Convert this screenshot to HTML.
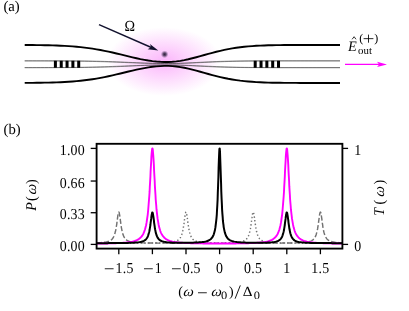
<!DOCTYPE html>
<html><head><meta charset="utf-8"><style>
html,body{margin:0;padding:0;background:#fff;}
body{width:409px;height:311px;overflow:hidden;}
svg{display:block}
text{font-family:"Liberation Serif",serif;font-size:13.9px;fill:#000;text-rendering:geometricPrecision}
.i{font-style:italic}
.tl{letter-spacing:0.25px}
</style></head><body>
<svg width="409" height="311" viewBox="0 0 409 311">
<defs>
<radialGradient id="glow" cx="50%" cy="50%" r="50%">
<stop offset="0" stop-color="#f200f2" stop-opacity="0.290"/>
<stop offset="1" stop-color="#f200f2" stop-opacity="0.000"/>
</radialGradient>
<radialGradient id="atom" cx="50%" cy="50%" r="50%">
<stop offset="0" stop-color="#2a1c38" stop-opacity="1"/>
<stop offset="0.4" stop-color="#4a3858" stop-opacity="0.85"/>
<stop offset="1" stop-color="#806890" stop-opacity="0"/>
</radialGradient>
<clipPath id="ax"><rect x="96.6" y="143.8" width="245.79999999999998" height="104.79999999999998"/></clipPath>
</defs>
<g style="will-change:transform"><rect width="409" height="311" fill="#fff"/>
<!-- panel a -->
<text x="3.4" y="11.4" style="font-size:14.7px">(a)</text>
<ellipse cx="164" cy="61.6" rx="57.5" ry="34.5" fill="url(#glow)"/>
<g fill="none" stroke="#444" stroke-width="0.55">
<path d="M24.7,60.86 28.7,60.86 32.7,60.87 36.7,60.88 40.7,60.88 44.7,60.89 48.6,60.91 52.6,60.92 56.6,60.94 60.6,60.97 64.6,61 68.6,61.04 72.6,61.08 76.6,61.14 80.6,61.2 84.6,61.27 88.6,61.35 92.5,61.44 96.5,61.54 100.5,61.66 104.5,61.78 108.5,61.91 112.5,62.05 116.5,62.2 120.5,62.35 124.5,62.5 128.5,62.66 132.5,62.81 136.5,62.95 140.4,63.09 144.4,63.21 148.4,63.32 152.4,63.41 156.4,63.47 160.4,63.52 164.4,63.55 168.4,63.55 172.4,63.52 176.4,63.45 180.4,63.36 184.3,63.25 188.3,63.11 192.3,62.96 196.3,62.79 200.3,62.62 204.3,62.44 208.3,62.27 212.3,62.09 216.3,61.93 220.3,61.78 224.3,61.64 228.2,61.51 232.2,61.4 236.2,61.3 240.2,61.21 244.2,61.14 248.2,61.08 252.2,61.03 256.2,60.99 260.2,60.96 264.2,60.93 268.2,60.91 272.2,60.89 276.1,60.88 280.1,60.87 284.1,60.87 288.1,60.86 292.1,60.86 296.1,60.86 300.1,60.85 304.1,60.85 308.1,60.85 312.1,60.85 316.1,60.85 320.0,60.85 324.0,60.85 328.0,60.85 332.0,60.85 336.0,60.85 340.0,60.85"/><path d="M24.7,67.64 28.7,67.64 32.7,67.63 36.7,67.62 40.7,67.62 44.7,67.61 48.6,67.59 52.6,67.58 56.6,67.56 60.6,67.53 64.6,67.5 68.6,67.46 72.6,67.42 76.6,67.36 80.6,67.3 84.6,67.23 88.6,67.15 92.5,67.06 96.5,66.96 100.5,66.84 104.5,66.72 108.5,66.59 112.5,66.45 116.5,66.3 120.5,66.15 124.5,66 128.5,65.84 132.5,65.69 136.5,65.55 140.4,65.41 144.4,65.29 148.4,65.18 152.4,65.09 156.4,65.03 160.4,64.98 164.4,64.95 168.4,64.95 172.4,64.98 176.4,65.05 180.4,65.14 184.3,65.25 188.3,65.39 192.3,65.54 196.3,65.71 200.3,65.88 204.3,66.06 208.3,66.23 212.3,66.41 216.3,66.57 220.3,66.72 224.3,66.86 228.2,66.99 232.2,67.1 236.2,67.2 240.2,67.29 244.2,67.36 248.2,67.42 252.2,67.47 256.2,67.51 260.2,67.54 264.2,67.57 268.2,67.59 272.2,67.61 276.1,67.62 280.1,67.63 284.1,67.63 288.1,67.64 292.1,67.64 296.1,67.64 300.1,67.65 304.1,67.65 308.1,67.65 312.1,67.65 316.1,67.65 320.0,67.65 324.0,67.65 328.0,67.65 332.0,67.65 336.0,67.65 340.0,67.65"/><path d="M24.7,60.85 28.7,60.85 32.7,60.85 36.7,60.85 40.7,60.85 44.7,60.86 48.6,60.86 52.6,60.86 56.6,60.87 60.6,60.88 64.6,60.89 68.6,60.9 72.6,60.92 76.6,60.94 80.6,60.97 84.6,61.01 88.6,61.07 92.5,61.13 96.5,61.2 100.5,61.29 104.5,61.4 108.5,61.52 112.5,61.65 116.5,61.8 120.5,61.97 124.5,62.14 128.5,62.33 132.5,62.52 136.5,62.7 140.4,62.88 144.4,63.05 148.4,63.21 152.4,63.34 156.4,63.44 160.4,63.51 164.4,63.54 168.4,63.54 172.4,63.5 176.4,63.41 180.4,63.28 184.3,63.11 188.3,62.92 192.3,62.72 196.3,62.5 200.3,62.28 204.3,62.07 208.3,61.88 212.3,61.69 216.3,61.53 220.3,61.39 224.3,61.27 228.2,61.18 232.2,61.1 236.2,61.03 240.2,60.98 244.2,60.94 248.2,60.92 252.2,60.9 256.2,60.88 260.2,60.87 264.2,60.86 268.2,60.86 272.2,60.86 276.1,60.85 280.1,60.85 284.1,60.85 288.1,60.85 292.1,60.85 296.1,60.85 300.1,60.85 304.1,60.85 308.1,60.85 312.1,60.85 316.1,60.85 320.0,60.85 324.0,60.85 328.0,60.85 332.0,60.85 336.0,60.85 340.0,60.85"/><path d="M24.7,67.65 28.7,67.65 32.7,67.65 36.7,67.65 40.7,67.65 44.7,67.64 48.6,67.64 52.6,67.64 56.6,67.63 60.6,67.62 64.6,67.61 68.6,67.6 72.6,67.58 76.6,67.56 80.6,67.53 84.6,67.49 88.6,67.43 92.5,67.37 96.5,67.3 100.5,67.21 104.5,67.1 108.5,66.98 112.5,66.85 116.5,66.7 120.5,66.53 124.5,66.36 128.5,66.17 132.5,65.98 136.5,65.8 140.4,65.62 144.4,65.45 148.4,65.29 152.4,65.16 156.4,65.06 160.4,64.99 164.4,64.96 168.4,64.96 172.4,65 176.4,65.09 180.4,65.22 184.3,65.39 188.3,65.58 192.3,65.78 196.3,66 200.3,66.22 204.3,66.43 208.3,66.62 212.3,66.81 216.3,66.97 220.3,67.11 224.3,67.23 228.2,67.32 232.2,67.4 236.2,67.47 240.2,67.52 244.2,67.56 248.2,67.58 252.2,67.6 256.2,67.62 260.2,67.63 264.2,67.64 268.2,67.64 272.2,67.64 276.1,67.65 280.1,67.65 284.1,67.65 288.1,67.65 292.1,67.65 296.1,67.65 300.1,67.65 304.1,67.65 308.1,67.65 312.1,67.65 316.1,67.65 320.0,67.65 324.0,67.65 328.0,67.65 332.0,67.65 336.0,67.65 340.0,67.65"/>
</g>
<rect x="53.90" y="60.75" width="3.0" height="7.0" fill="#000"/><rect x="59.73" y="60.75" width="3.0" height="7.0" fill="#000"/><rect x="65.56" y="60.75" width="3.0" height="7.0" fill="#000"/><rect x="71.39" y="60.75" width="3.0" height="7.0" fill="#000"/><rect x="77.22" y="60.75" width="3.0" height="7.0" fill="#000"/><rect x="253.70" y="60.75" width="3.0" height="7.0" fill="#000"/><rect x="259.53" y="60.75" width="3.0" height="7.0" fill="#000"/><rect x="265.36" y="60.75" width="3.0" height="7.0" fill="#000"/><rect x="271.19" y="60.75" width="3.0" height="7.0" fill="#000"/><rect x="277.02" y="60.75" width="3.0" height="7.0" fill="#000"/>
<g fill="none" stroke="#000" stroke-width="1.9" stroke-linecap="butt">
<path d="M24.7,45.01 28.7,45.04 32.7,45.07 36.7,45.11 40.7,45.16 44.7,45.23 48.6,45.31 52.6,45.42 56.6,45.55 60.6,45.71 64.6,45.9 68.6,46.14 72.6,46.42 76.6,46.75 80.6,47.14 84.6,47.59 88.6,48.1 92.5,48.68 96.5,49.33 100.5,50.04 104.5,50.82 108.5,51.65 112.5,52.54 116.5,53.46 120.5,54.42 124.5,55.39 128.5,56.36 132.5,57.31 136.5,58.22 140.4,59.07 144.4,59.84 148.4,60.52 152.4,61.09 156.4,61.52 160.4,61.82 164.4,61.98 168.4,61.98 172.4,61.78 176.4,61.4 180.4,60.83 184.3,60.11 188.3,59.24 192.3,58.27 196.3,57.22 200.3,56.12 204.3,55 208.3,53.89 212.3,52.8 216.3,51.77 220.3,50.8 224.3,49.92 228.2,49.11 232.2,48.4 236.2,47.77 240.2,47.23 244.2,46.78 248.2,46.39 252.2,46.08 256.2,45.82 260.2,45.61 264.2,45.45 268.2,45.32 272.2,45.22 276.1,45.15 280.1,45.09 284.1,45.05 288.1,45.02 292.1,45 296.1,44.98 300.1,44.97 304.1,44.97 308.1,44.96 312.1,44.96 316.1,44.95 320.0,44.95 324.0,44.95 328.0,44.95 332.0,44.95 336.0,44.95 340.0,44.95"/><path d="M24.7,82.89 28.7,82.86 32.7,82.83 36.7,82.79 40.7,82.74 44.7,82.67 48.6,82.59 52.6,82.48 56.6,82.35 60.6,82.19 64.6,82 68.6,81.76 72.6,81.48 76.6,81.15 80.6,80.76 84.6,80.31 88.6,79.8 92.5,79.22 96.5,78.57 100.5,77.86 104.5,77.08 108.5,76.25 112.5,75.36 116.5,74.44 120.5,73.48 124.5,72.51 128.5,71.54 132.5,70.59 136.5,69.68 140.4,68.83 144.4,68.06 148.4,67.38 152.4,66.81 156.4,66.38 160.4,66.08 164.4,65.92 168.4,65.92 172.4,66.12 176.4,66.5 180.4,67.07 184.3,67.79 188.3,68.66 192.3,69.63 196.3,70.68 200.3,71.78 204.3,72.9 208.3,74.01 212.3,75.1 216.3,76.13 220.3,77.1 224.3,77.98 228.2,78.79 232.2,79.5 236.2,80.13 240.2,80.67 244.2,81.12 248.2,81.51 252.2,81.82 256.2,82.08 260.2,82.29 264.2,82.45 268.2,82.58 272.2,82.68 276.1,82.75 280.1,82.81 284.1,82.85 288.1,82.88 292.1,82.9 296.1,82.92 300.1,82.93 304.1,82.93 308.1,82.94 312.1,82.94 316.1,82.95 320.0,82.95 324.0,82.95 328.0,82.95 332.0,82.95 336.0,82.95 340.0,82.95"/>
</g>
<circle cx="164.6" cy="54.3" r="3.9" fill="url(#atom)"/>
<line x1="99" y1="24.7" x2="152.5" y2="48.0" stroke="#12122e" stroke-width="1.45"/>
<path d="M158.3,50.6 L147.6,49.3 L151.2,47.3 L149.9,43.9 Z" fill="#12122e"/>
<text transform="translate(124.6,30.8) scale(1,1.08)" style="font-size:14.2px">&#937;</text>
<!-- output field -->
<text x="348" y="50.8" class="i" style="font-size:14.4px">E</text>
<path d="M352.1,39.3 L354.1,36.7 L356.0,39.3" fill="none" stroke="#000" stroke-width="0.8"/>
<text x="358.1" y="54.4" style="font-size:10.8px">out</text>
<text x="359.2" y="41.7" style="font-size:12px">(</text>
<path d="M363.6,38.65 H373.4 M368.5,34.6 V42.7" fill="none" stroke="#000" stroke-width="0.85"/>
<text x="374.3" y="41.7" style="font-size:12px">)</text>
<line x1="345" y1="64.4" x2="381" y2="64.4" stroke="#ff00ff" stroke-width="1.3"/>
<path d="M387,64.4 L377,61.7 L379.2,64.4 L377,67.1 Z" fill="#ff00ff"/>
<!-- panel b -->
<text x="3.5" y="133.5" style="font-size:14.7px">(b)</text>
<g clip-path="url(#ax)" fill="none" stroke-linejoin="round">
<path d="M96.6,242.81 99.3,242.69 100.6,242.61 102.0,242.5 103.3,242.37 104.7,242.21 106.0,241.99 107.4,241.69 108.7,241.28 110.0,240.68 110.6,240.37 111.1,239.99 111.7,239.55 112.2,239 112.7,238.34 113.3,237.53 113.8,236.51 114.3,235.23 114.9,233.61 115.1,232.64 115.4,231.55 115.7,230.31 116.0,228.93 116.2,227.38 116.5,225.68 116.8,223.81 117.0,221.83 117.3,219.76 117.6,217.7 117.8,215.77 118.1,214.1 118.4,212.85 118.6,212.16 118.9,212.1 119.2,212.68 119.4,213.84 119.7,215.44 120.0,217.34 120.3,219.39 120.5,221.46 120.8,223.47 121.1,225.35 121.3,227.09 121.6,228.66 121.9,230.08 122.1,231.34 122.4,232.45 122.7,233.45 122.9,234.32 123.5,235.79 124.0,236.96 124.6,237.88 125.1,238.63 125.6,239.24 126.2,239.74 126.7,240.15 127.2,240.5 127.8,240.79 128.3,241.04 128.9,241.26 129.4,241.44 130.7,241.81 132.1,242.07 133.4,242.27 134.8,242.42 136.1,242.54 137.5,242.64 138.8,242.71 140.1,242.78 141.5,242.83 142.8,242.87 143.4,242.89 143.9,242.9 144.4,242.92 145.0,242.93 145.5,242.94 146.1,242.96 146.6,242.97 147.1,242.98 147.7,242.99 148.2,242.99 148.7,243 149.0,243.01 149.3,243.01 149.6,243.02 149.8,243.02 150.1,243.02 150.4,243.03 150.6,243.03 150.9,243.03 151.2,243.04 151.4,243.04 151.7,243.04 152.0,243.05 152.2,243.05 152.5,243.05 152.8,243.06 153.0,243.06 153.3,243.06 153.6,243.06 153.9,243.07 154.1,243.07 154.4,243.07 154.7,243.07 154.9,243.08 155.2,243.08 155.5,243.08 155.7,243.08 156.0,243.09 156.3,243.09 156.5,243.09 157.1,243.09 157.6,243.1 158.2,243.1 158.7,243.11 159.2,243.11 159.8,243.11 160.3,243.12 160.8,243.12 161.4,243.12 161.9,243.12 162.5,243.13 163.0,243.13 164.3,243.14 165.7,243.14 167.0,243.15 168.4,243.15 169.7,243.16 171.1,243.16 172.4,243.16 173.7,243.17 175.1,243.17 176.4,243.17 177.0,243.17 177.5,243.18 178.0,243.18 178.6,243.18 179.1,243.18 179.7,243.18 180.2,243.18 180.7,243.18 181.3,243.18 181.8,243.18 182.3,243.18 182.6,243.18 182.9,243.18 183.2,243.18 183.4,243.19 183.7,243.19 184.0,243.19 184.2,243.19 184.5,243.19 184.8,243.19 185.0,243.19 185.3,243.19 185.6,243.19 185.8,243.19 186.1,243.19 186.4,243.19 186.6,243.19 186.9,243.19 187.2,243.19 187.5,243.19 187.7,243.19 188.0,243.19 188.3,243.19 188.5,243.19 188.8,243.19 189.1,243.19 189.3,243.19 189.6,243.19 189.9,243.19 190.1,243.19 190.7,243.19 191.2,243.19 191.8,243.19 192.3,243.2 192.8,243.2 193.4,243.2 193.9,243.2 194.4,243.2 195.0,243.2 195.5,243.2 196.1,243.2 196.6,243.2 197.9,243.2 199.3,243.2 200.6,243.2 202.0,243.2 203.3,243.2 204.7,243.2 206.0,243.2 207.3,243.2 208.7,243.2 210.0,243.2 210.6,243.2 211.1,243.2 211.6,243.21 212.2,243.21 212.7,243.21 213.3,243.21 213.8,243.21 214.3,243.21 214.9,243.21 215.4,243.21 215.9,243.21 216.2,243.21 216.5,243.21 216.8,243.21 217.0,243.21 217.3,243.21 217.6,243.21 217.8,243.21 218.1,243.21 218.4,243.21 218.6,243.21 218.9,243.21 219.2,243.21 219.4,243.21 219.7,243.21 220.0,243.21 220.2,243.21 220.5,243.21 220.8,243.21 221.1,243.21 221.3,243.21 221.6,243.21 221.9,243.21 222.1,243.21 222.4,243.21 222.7,243.21 222.9,243.21 223.2,243.21 223.5,243.21 223.7,243.21 224.3,243.21 224.8,243.21 225.4,243.21 225.9,243.21 226.4,243.21 227.0,243.21 227.5,243.21 228.0,243.2 228.6,243.2 229.1,243.2 229.7,243.2 230.2,243.2 231.5,243.2 232.9,243.2 234.2,243.2 235.6,243.2 236.9,243.2 238.3,243.2 239.6,243.2 240.9,243.2 242.3,243.2 243.6,243.2 244.2,243.2 244.7,243.2 245.2,243.2 245.8,243.2 246.3,243.2 246.9,243.2 247.4,243.19 247.9,243.19 248.5,243.19 249.0,243.19 249.5,243.19 249.8,243.19 250.1,243.19 250.4,243.19 250.6,243.19 250.9,243.19 251.2,243.19 251.4,243.19 251.7,243.19 252.0,243.19 252.2,243.19 252.5,243.19 252.8,243.19 253.0,243.19 253.3,243.19 253.6,243.19 253.8,243.19 254.1,243.19 254.4,243.19 254.7,243.19 254.9,243.19 255.2,243.19 255.5,243.19 255.7,243.19 256.0,243.19 256.3,243.18 256.5,243.18 256.8,243.18 257.1,243.18 257.3,243.18 257.9,243.18 258.4,243.18 259.0,243.18 259.5,243.18 260.0,243.18 260.6,243.18 261.1,243.18 261.6,243.18 262.2,243.17 262.7,243.17 263.3,243.17 263.8,243.17 265.1,243.17 266.5,243.16 267.8,243.16 269.2,243.16 270.5,243.15 271.9,243.15 273.2,243.14 274.5,243.14 275.9,243.13 277.2,243.12 277.8,243.12 278.3,243.12 278.8,243.12 279.4,243.11 279.9,243.11 280.5,243.11 281.0,243.1 281.5,243.1 282.1,243.09 282.6,243.09 283.1,243.09 283.4,243.08 283.7,243.08 284.0,243.08 284.2,243.08 284.5,243.07 284.8,243.07 285.0,243.07 285.3,243.07 285.6,243.06 285.8,243.06 286.1,243.06 286.4,243.06 286.6,243.05 286.9,243.05 287.2,243.05 287.4,243.04 287.7,243.04 288.0,243.04 288.3,243.03 288.5,243.03 288.8,243.03 289.1,243.02 289.3,243.02 289.6,243.02 289.9,243.01 290.1,243.01 290.4,243 290.7,243 290.9,243 291.5,242.99 292.0,242.98 292.6,242.97 293.1,242.96 293.6,242.94 294.2,242.93 294.7,242.92 295.2,242.91 295.8,242.89 296.3,242.88 296.9,242.86 297.4,242.84 298.7,242.79 300.1,242.73 301.4,242.66 302.8,242.57 304.1,242.45 305.5,242.31 306.8,242.12 308.1,241.88 309.5,241.54 310.8,241.06 311.4,240.82 311.9,240.53 312.4,240.19 313.0,239.78 313.5,239.29 314.1,238.69 314.6,237.96 315.1,237.05 315.7,235.91 316.2,234.47 316.7,232.64 317.0,231.54 317.3,230.31 317.6,228.93 317.8,227.38 318.1,225.68 318.4,223.81 318.6,221.82 318.9,219.76 319.2,217.7 319.4,215.77 319.7,214.1 320.0,212.85 320.2,212.16 320.5,212.1 320.8,212.68 321.0,213.84 321.3,215.44 321.6,217.34 321.9,219.39 322.1,221.46 322.4,223.47 322.7,225.35 322.9,227.09 323.2,228.66 323.5,230.08 323.7,231.34 324.0,232.45 324.3,233.45 324.5,234.32 325.1,235.79 325.6,236.96 326.2,237.88 326.7,238.63 327.2,239.24 327.8,239.74 328.3,240.15 328.8,240.5 329.4,240.79 329.9,241.04 330.5,241.26 331.0,241.44 332.3,241.81 333.7,242.07 335.0,242.27 336.4,242.43 337.7,242.54 339.1,242.64 340.4,242.72 341.7,242.78 342.4,242.81" stroke="#727272" stroke-width="1.45" stroke-dasharray="5.14,2.22"/>
<path d="M96.6,243.21 99.3,243.21 100.6,243.21 102.0,243.21 103.3,243.21 104.7,243.21 106.0,243.2 107.4,243.2 108.7,243.2 110.0,243.2 110.6,243.2 111.1,243.2 111.7,243.2 112.2,243.2 112.7,243.2 113.3,243.2 113.8,243.2 114.3,243.2 114.9,243.19 115.1,243.19 115.4,243.19 115.7,243.19 116.0,243.19 116.2,243.19 116.5,243.19 116.8,243.19 117.0,243.19 117.3,243.19 117.6,243.19 117.8,243.19 118.1,243.19 118.4,243.19 118.6,243.19 118.9,243.19 119.2,243.19 119.4,243.19 119.7,243.19 120.0,243.19 120.3,243.19 120.5,243.19 120.8,243.19 121.1,243.18 121.3,243.18 121.6,243.18 121.9,243.18 122.1,243.18 122.4,243.18 122.7,243.18 122.9,243.18 123.5,243.18 124.0,243.18 124.6,243.18 125.1,243.18 125.6,243.18 126.2,243.17 126.7,243.17 127.2,243.17 127.8,243.17 128.3,243.17 128.9,243.17 129.4,243.17 130.7,243.16 132.1,243.16 133.4,243.16 134.8,243.15 136.1,243.15 137.5,243.14 138.8,243.14 140.1,243.13 141.5,243.12 142.8,243.12 143.4,243.11 143.9,243.11 144.4,243.11 145.0,243.1 145.5,243.1 146.1,243.1 146.6,243.09 147.1,243.09 147.7,243.08 148.2,243.08 148.7,243.07 149.0,243.07 149.3,243.07 149.6,243.07 149.8,243.07 150.1,243.06 150.4,243.06 150.6,243.06 150.9,243.05 151.2,243.05 151.4,243.05 151.7,243.05 152.0,243.04 152.2,243.04 152.5,243.04 152.8,243.03 153.0,243.03 153.3,243.03 153.6,243.02 153.9,243.02 154.1,243.02 154.4,243.01 154.7,243.01 154.9,243.01 155.2,243 155.5,243 155.7,242.99 156.0,242.99 156.3,242.98 156.5,242.98 157.1,242.97 157.6,242.96 158.2,242.95 158.7,242.94 159.2,242.93 159.8,242.92 160.3,242.9 160.8,242.89 161.4,242.87 161.9,242.86 162.5,242.84 163.0,242.82 164.3,242.77 165.7,242.71 167.0,242.64 168.4,242.54 169.7,242.43 171.1,242.29 172.4,242.1 173.7,241.85 175.1,241.51 176.4,241.03 177.0,240.79 177.5,240.5 178.0,240.15 178.6,239.75 179.1,239.25 179.7,238.66 180.2,237.92 180.7,237.01 181.3,235.87 181.8,234.43 182.3,232.6 182.6,231.51 182.9,230.27 183.2,228.89 183.4,227.34 183.7,225.64 184.0,223.77 184.2,221.79 184.5,219.72 184.8,217.66 185.0,215.73 185.3,214.06 185.6,212.81 185.8,212.11 186.1,212.06 186.4,212.64 186.6,213.8 186.9,215.4 187.2,217.3 187.5,219.34 187.7,221.42 188.0,223.42 188.3,225.31 188.5,227.04 188.8,228.62 189.1,230.03 189.3,231.29 189.6,232.41 189.9,233.4 190.1,234.28 190.7,235.74 191.2,236.91 191.8,237.83 192.3,238.58 192.8,239.19 193.4,239.68 193.9,240.1 194.4,240.44 195.0,240.74 195.5,240.99 196.1,241.2 196.6,241.38 197.9,241.74 199.3,242.01 200.6,242.2 202.0,242.35 203.3,242.46 204.7,242.55 206.0,242.63 207.3,242.68 208.7,242.73 210.0,242.77 210.6,242.78 211.1,242.79 211.6,242.8 212.2,242.81 212.7,242.82 213.3,242.83 213.8,242.84 214.3,242.84 214.9,242.85 215.4,242.85 215.9,242.86 216.2,242.86 216.5,242.86 216.8,242.86 217.0,242.86 217.3,242.87 217.6,242.87 217.8,242.87 218.1,242.87 218.4,242.87 218.6,242.87 218.9,242.87 219.2,242.87 219.4,242.87 219.7,242.87 220.0,242.87 220.2,242.87 220.5,242.87 220.8,242.87 221.1,242.87 221.3,242.87 221.6,242.87 221.9,242.87 222.1,242.86 222.4,242.86 222.7,242.86 222.9,242.86 223.2,242.86 223.5,242.86 223.7,242.85 224.3,242.85 224.8,242.84 225.4,242.84 225.9,242.83 226.4,242.82 227.0,242.81 227.5,242.8 228.0,242.79 228.6,242.78 229.1,242.77 229.7,242.75 230.2,242.74 231.5,242.69 232.9,242.64 234.2,242.57 235.6,242.49 236.9,242.38 238.3,242.24 239.6,242.06 240.9,241.81 242.3,241.48 243.6,241.01 244.2,240.76 244.7,240.47 245.2,240.13 245.8,239.72 246.3,239.23 246.9,238.64 247.4,237.91 247.9,237 248.5,235.86 249.0,234.42 249.5,232.59 249.8,231.5 250.1,230.27 250.4,228.88 250.6,227.34 250.9,225.63 251.2,223.77 251.4,221.78 251.7,219.72 252.0,217.66 252.2,215.72 252.5,214.06 252.8,212.81 253.0,212.11 253.3,212.06 253.6,212.64 253.8,213.8 254.1,215.4 254.4,217.3 254.7,219.35 254.9,221.42 255.2,223.43 255.5,225.32 255.7,227.05 256.0,228.63 256.3,230.04 256.5,231.3 256.8,232.42 257.1,233.41 257.3,234.29 257.9,235.76 258.4,236.92 259.0,237.85 259.5,238.6 260.0,239.21 260.6,239.71 261.1,240.12 261.6,240.47 262.2,240.76 262.7,241.01 263.3,241.23 263.8,241.41 265.1,241.78 266.5,242.05 267.8,242.25 269.2,242.4 270.5,242.52 271.9,242.62 273.2,242.69 274.5,242.76 275.9,242.81 277.2,242.86 277.8,242.87 278.3,242.89 278.8,242.9 279.4,242.91 279.9,242.93 280.5,242.94 281.0,242.95 281.5,242.96 282.1,242.97 282.6,242.98 283.1,242.99 283.4,242.99 283.7,243 284.0,243 284.2,243 284.5,243.01 284.8,243.01 285.0,243.02 285.3,243.02 285.6,243.02 285.8,243.03 286.1,243.03 286.4,243.03 286.6,243.04 286.9,243.04 287.2,243.04 287.4,243.05 287.7,243.05 288.0,243.05 288.3,243.05 288.5,243.06 288.8,243.06 289.1,243.06 289.3,243.06 289.6,243.07 289.9,243.07 290.1,243.07 290.4,243.07 290.7,243.08 290.9,243.08 291.5,243.08 292.0,243.09 292.6,243.09 293.1,243.1 293.6,243.1 294.2,243.1 294.7,243.11 295.2,243.11 295.8,243.11 296.3,243.12 296.9,243.12 297.4,243.12 298.7,243.13 300.1,243.13 301.4,243.14 302.8,243.15 304.1,243.15 305.5,243.15 306.8,243.16 308.1,243.16 309.5,243.17 310.8,243.17 311.4,243.17 311.9,243.17 312.4,243.17 313.0,243.17 313.5,243.18 314.1,243.18 314.6,243.18 315.1,243.18 315.7,243.18 316.2,243.18 316.7,243.18 317.0,243.18 317.3,243.18 317.6,243.18 317.8,243.18 318.1,243.18 318.4,243.19 318.6,243.19 318.9,243.19 319.2,243.19 319.4,243.19 319.7,243.19 320.0,243.19 320.2,243.19 320.5,243.19 320.8,243.19 321.0,243.19 321.3,243.19 321.6,243.19 321.9,243.19 322.1,243.19 322.4,243.19 322.7,243.19 322.9,243.19 323.2,243.19 323.5,243.19 323.7,243.19 324.0,243.19 324.3,243.19 324.5,243.19 325.1,243.2 325.6,243.2 326.2,243.2 326.7,243.2 327.2,243.2 327.8,243.2 328.3,243.2 328.8,243.2 329.4,243.2 329.9,243.2 330.5,243.2 331.0,243.2 332.3,243.2 333.7,243.21 335.0,243.21 336.4,243.21 337.7,243.21 339.1,243.21 340.4,243.21 341.7,243.21 342.4,243.21" stroke="#727272" stroke-width="1.45" stroke-dasharray="1.39,2.29"/>
<path d="M96.6,243.6 99.3,243.56 100.6,243.55 102.0,243.53 103.3,243.51 104.7,243.48 106.0,243.46 107.4,243.43 108.7,243.4 110.0,243.37 110.6,243.36 111.1,243.35 111.7,243.33 112.2,243.32 112.7,243.3 113.3,243.28 113.8,243.27 114.3,243.25 114.9,243.23 115.1,243.22 115.4,243.21 115.7,243.2 116.0,243.19 116.2,243.18 116.5,243.17 116.8,243.16 117.0,243.15 117.3,243.14 117.6,243.12 117.8,243.11 118.1,243.1 118.4,243.09 118.6,243.08 118.9,243.06 119.2,243.05 119.4,243.04 119.7,243.02 120.0,243.01 120.3,242.99 120.5,242.98 120.8,242.96 121.1,242.95 121.3,242.93 121.6,242.91 121.9,242.9 122.1,242.88 122.4,242.86 122.7,242.84 122.9,242.82 123.5,242.78 124.0,242.74 124.6,242.7 125.1,242.65 125.6,242.6 126.2,242.55 126.7,242.49 127.2,242.43 127.8,242.37 128.3,242.3 128.9,242.23 129.4,242.15 130.7,241.93 132.1,241.67 133.4,241.36 134.8,240.97 136.1,240.49 137.5,239.88 138.8,239.09 140.1,238.04 141.5,236.63 142.8,234.67 143.4,233.66 143.9,232.48 144.4,231.1 145.0,229.47 145.5,227.53 146.1,225.21 146.6,222.4 147.1,218.99 147.7,214.83 148.2,209.74 148.7,203.51 149.0,199.91 149.3,195.96 149.6,191.67 149.8,187.03 150.1,182.08 150.4,176.89 150.6,171.58 150.9,166.28 151.2,161.23 151.4,156.66 151.7,152.86 152.0,150.1 152.2,148.59 152.5,148.47 152.8,149.73 153.0,152.29 153.3,155.92 153.6,160.37 153.9,165.36 154.1,170.62 154.4,175.95 154.7,181.17 154.9,186.16 155.2,190.86 155.5,195.22 155.7,199.22 156.0,202.88 156.3,206.21 156.5,209.22 157.1,214.41 157.6,218.65 158.2,222.12 158.7,224.97 159.2,227.33 159.8,229.3 160.3,230.95 160.8,232.35 161.4,233.55 161.9,234.57 162.5,235.45 163.0,236.21 164.3,237.73 165.7,238.85 167.0,239.69 168.4,240.33 169.7,240.84 171.1,241.24 172.4,241.57 173.7,241.84 175.1,242.07 176.4,242.26 177.0,242.32 177.5,242.39 178.0,242.44 178.6,242.5 179.1,242.55 179.7,242.6 180.2,242.65 180.7,242.69 181.3,242.73 181.8,242.77 182.3,242.81 182.6,242.82 182.9,242.84 183.2,242.86 183.4,242.87 183.7,242.89 184.0,242.9 184.2,242.92 184.5,242.93 184.8,242.95 185.0,242.96 185.3,242.98 185.6,242.99 185.8,243 186.1,243.01 186.4,243.03 186.6,243.04 186.9,243.05 187.2,243.06 187.5,243.07 187.7,243.08 188.0,243.09 188.3,243.1 188.5,243.11 188.8,243.12 189.1,243.13 189.3,243.14 189.6,243.15 189.9,243.16 190.1,243.17 190.7,243.19 191.2,243.2 191.8,243.22 192.3,243.23 192.8,243.25 193.4,243.26 193.9,243.27 194.4,243.29 195.0,243.3 195.5,243.31 196.1,243.32 196.6,243.33 197.9,243.35 199.3,243.38 200.6,243.4 202.0,243.41 203.3,243.43 204.7,243.44 206.0,243.45 207.3,243.46 208.7,243.47 210.0,243.48 210.6,243.48 211.1,243.49 211.6,243.49 212.2,243.49 212.7,243.49 213.3,243.5 213.8,243.5 214.3,243.5 214.9,243.5 215.4,243.5 215.9,243.5 216.2,243.5 216.5,243.51 216.8,243.51 217.0,243.51 217.3,243.51 217.6,243.51 217.8,243.51 218.1,243.51 218.4,243.51 218.6,243.51 218.9,243.51 219.2,243.51 219.4,243.51 219.7,243.51 220.0,243.51 220.2,243.51 220.5,243.51 220.8,243.51 221.1,243.51 221.3,243.51 221.6,243.51 221.9,243.51 222.1,243.51 222.4,243.51 222.7,243.51 222.9,243.5 223.2,243.5 223.5,243.5 223.7,243.5 224.3,243.5 224.8,243.5 225.4,243.5 225.9,243.5 226.4,243.49 227.0,243.49 227.5,243.49 228.0,243.49 228.6,243.49 229.1,243.48 229.7,243.48 230.2,243.48 231.5,243.47 232.9,243.46 234.2,243.44 235.6,243.43 236.9,243.42 238.3,243.4 239.6,243.38 240.9,243.36 242.3,243.34 243.6,243.31 244.2,243.3 244.7,243.29 245.2,243.27 245.8,243.26 246.3,243.25 246.9,243.23 247.4,243.22 247.9,243.2 248.5,243.19 249.0,243.17 249.5,243.15 249.8,243.14 250.1,243.14 250.4,243.13 250.6,243.12 250.9,243.11 251.2,243.1 251.4,243.09 251.7,243.07 252.0,243.06 252.2,243.05 252.5,243.04 252.8,243.03 253.0,243.02 253.3,243 253.6,242.99 253.8,242.98 254.1,242.96 254.4,242.95 254.7,242.94 254.9,242.92 255.2,242.91 255.5,242.89 255.7,242.88 256.0,242.86 256.3,242.84 256.5,242.83 256.8,242.81 257.1,242.79 257.3,242.77 257.9,242.73 258.4,242.69 259.0,242.65 259.5,242.6 260.0,242.56 260.6,242.5 261.1,242.45 261.6,242.39 262.2,242.33 262.7,242.26 263.3,242.19 263.8,242.11 265.1,241.9 266.5,241.64 267.8,241.33 269.2,240.94 270.5,240.46 271.9,239.85 273.2,239.07 274.5,238.03 275.9,236.62 277.2,234.65 277.8,233.64 278.3,232.47 278.8,231.09 279.4,229.46 279.9,227.52 280.5,225.2 281.0,222.39 281.5,218.99 282.1,214.83 282.6,209.73 283.1,203.5 283.4,199.9 283.7,195.96 284.0,191.66 284.2,187.02 284.5,182.08 284.8,176.89 285.0,171.57 285.3,166.28 285.6,161.23 285.8,156.66 286.1,152.86 286.4,150.1 286.6,148.59 286.9,148.47 287.2,149.73 287.4,152.29 287.7,155.92 288.0,160.37 288.3,165.36 288.5,170.62 288.8,175.95 289.1,181.17 289.3,186.17 289.6,190.86 289.9,195.22 290.1,199.23 290.4,202.89 290.7,206.22 290.9,209.23 291.5,214.42 292.0,218.66 292.6,222.12 293.1,224.98 293.6,227.34 294.2,229.31 294.7,230.97 295.2,232.37 295.8,233.56 296.3,234.58 296.9,235.46 297.4,236.23 298.7,237.75 300.1,238.87 301.4,239.71 302.8,240.36 304.1,240.87 305.5,241.27 306.8,241.61 308.1,241.88 309.5,242.1 310.8,242.29 311.4,242.36 311.9,242.43 312.4,242.49 313.0,242.54 313.5,242.6 314.1,242.65 314.6,242.69 315.1,242.74 315.7,242.78 316.2,242.82 316.7,242.86 317.0,242.87 317.3,242.89 317.6,242.91 317.8,242.93 318.1,242.94 318.4,242.96 318.6,242.97 318.9,242.99 319.2,243 319.4,243.02 319.7,243.03 320.0,243.05 320.2,243.06 320.5,243.07 320.8,243.09 321.0,243.1 321.3,243.11 321.6,243.12 321.9,243.13 322.1,243.15 322.4,243.16 322.7,243.17 322.9,243.18 323.2,243.19 323.5,243.2 323.7,243.21 324.0,243.22 324.3,243.23 324.5,243.24 325.1,243.26 325.6,243.27 326.2,243.29 326.7,243.31 327.2,243.32 327.8,243.34 328.3,243.35 328.8,243.37 329.4,243.38 329.9,243.39 330.5,243.4 331.0,243.42 332.3,243.44 333.7,243.47 335.0,243.49 336.4,243.51 337.7,243.53 339.1,243.55 340.4,243.57 341.7,243.59 342.4,243.59" stroke="#ff00ff" stroke-width="1.9"/>
<path d="M96.6,243.16 99.3,243.15 100.6,243.15 102.0,243.15 103.3,243.14 104.7,243.14 106.0,243.13 107.4,243.13 108.7,243.12 110.0,243.11 110.6,243.11 111.1,243.11 111.7,243.1 112.2,243.1 112.7,243.1 113.3,243.09 113.8,243.09 114.3,243.08 114.9,243.08 115.1,243.08 115.4,243.08 115.7,243.07 116.0,243.07 116.2,243.07 116.5,243.07 116.8,243.07 117.0,243.06 117.3,243.06 117.6,243.06 117.8,243.06 118.1,243.05 118.4,243.05 118.6,243.05 118.9,243.04 119.2,243.04 119.4,243.04 119.7,243.04 120.0,243.03 120.3,243.03 120.5,243.03 120.8,243.02 121.1,243.02 121.3,243.02 121.6,243.01 121.9,243.01 122.1,243.01 122.4,243 122.7,243 122.9,242.99 123.5,242.99 124.0,242.98 124.6,242.97 125.1,242.96 125.6,242.95 126.2,242.94 126.7,242.92 127.2,242.91 127.8,242.9 128.3,242.89 128.9,242.87 129.4,242.85 130.7,242.81 132.1,242.76 133.4,242.69 134.8,242.61 136.1,242.51 137.5,242.38 138.8,242.22 140.1,242 141.5,241.71 142.8,241.29 143.4,241.07 143.9,240.82 144.4,240.51 145.0,240.15 145.5,239.71 146.1,239.18 146.6,238.52 147.1,237.7 147.7,236.66 148.2,235.33 148.7,233.63 149.0,232.59 149.3,231.41 149.6,230.08 149.8,228.57 150.1,226.88 150.4,225.01 150.6,222.98 150.9,220.83 151.2,218.65 151.4,216.56 151.7,214.74 152.0,213.35 152.2,212.57 152.5,212.51 152.8,213.16 153.0,214.45 153.3,216.21 153.6,218.26 153.9,220.43 154.1,222.59 154.4,224.65 154.7,226.55 154.9,228.27 155.2,229.81 155.5,231.17 155.7,232.38 156.0,233.43 156.3,234.36 156.5,235.18 157.1,236.53 157.6,237.59 158.2,238.43 158.7,239.1 159.2,239.64 159.8,240.08 160.3,240.44 160.8,240.75 161.4,241.01 161.9,241.22 162.5,241.41 163.0,241.57 164.3,241.88 165.7,242.11 167.0,242.27 168.4,242.4 169.7,242.5 171.1,242.57 172.4,242.63 173.7,242.68 175.1,242.71 176.4,242.74 177.0,242.75 177.5,242.76 178.0,242.76 178.6,242.77 179.1,242.77 179.7,242.78 180.2,242.78 180.7,242.78 181.3,242.79 181.8,242.79 182.3,242.79 182.6,242.79 182.9,242.79 183.2,242.79 183.4,242.79 183.7,242.79 184.0,242.79 184.2,242.78 184.5,242.78 184.8,242.78 185.0,242.78 185.3,242.78 185.6,242.78 185.8,242.78 186.1,242.77 186.4,242.77 186.6,242.77 186.9,242.77 187.2,242.76 187.5,242.76 187.7,242.76 188.0,242.75 188.3,242.75 188.5,242.75 188.8,242.74 189.1,242.74 189.3,242.73 189.6,242.73 189.9,242.72 190.1,242.72 190.7,242.71 191.2,242.7 191.8,242.68 192.3,242.67 192.8,242.65 193.4,242.64 193.9,242.62 194.4,242.6 195.0,242.58 195.5,242.56 196.1,242.53 196.6,242.51 197.9,242.43 199.3,242.34 200.6,242.23 202.0,242.09 203.3,241.92 204.7,241.69 206.0,241.4 207.3,241 208.7,240.45 210.0,239.67 210.6,239.26 211.1,238.77 211.6,238.19 212.2,237.49 212.7,236.63 213.3,235.57 213.8,234.24 214.3,232.54 214.9,230.33 215.4,227.41 215.9,223.46 216.2,220.97 216.5,218.03 216.8,214.55 217.0,210.44 217.3,205.56 217.6,199.82 217.8,193.12 218.1,185.45 218.4,176.98 218.6,168.14 218.9,159.71 219.2,152.85 219.4,148.8 219.7,148.46 220.0,151.89 220.2,158.33 220.5,166.57 220.8,175.41 221.1,183.99 221.3,191.82 221.6,198.69 221.9,204.6 222.1,209.62 222.4,213.87 222.7,217.45 222.9,220.48 223.2,223.04 223.5,225.23 223.7,227.1 224.3,230.1 224.8,232.37 225.4,234.1 225.9,235.47 226.4,236.55 227.0,237.42 227.5,238.14 228.0,238.73 228.6,239.22 229.1,239.64 229.7,239.99 230.2,240.29 231.5,240.89 232.9,241.31 234.2,241.63 235.6,241.87 236.9,242.05 238.3,242.2 239.6,242.32 240.9,242.41 242.3,242.49 243.6,242.56 244.2,242.58 244.7,242.6 245.2,242.62 245.8,242.64 246.3,242.65 246.9,242.67 247.4,242.68 247.9,242.69 248.5,242.71 249.0,242.72 249.5,242.73 249.8,242.73 250.1,242.74 250.4,242.74 250.6,242.74 250.9,242.75 251.2,242.75 251.4,242.76 251.7,242.76 252.0,242.76 252.2,242.77 252.5,242.77 252.8,242.77 253.0,242.77 253.3,242.77 253.6,242.78 253.8,242.78 254.1,242.78 254.4,242.78 254.7,242.78 254.9,242.78 255.2,242.79 255.5,242.79 255.7,242.79 256.0,242.79 256.3,242.79 256.5,242.79 256.8,242.79 257.1,242.79 257.3,242.79 257.9,242.79 258.4,242.78 259.0,242.78 259.5,242.78 260.0,242.77 260.6,242.77 261.1,242.76 261.6,242.76 262.2,242.75 262.7,242.74 263.3,242.73 263.8,242.72 265.1,242.68 266.5,242.64 267.8,242.59 269.2,242.52 270.5,242.43 271.9,242.31 273.2,242.15 274.5,241.94 275.9,241.65 277.2,241.24 277.8,241.03 278.3,240.77 278.8,240.47 279.4,240.11 279.9,239.68 280.5,239.15 281.0,238.49 281.5,237.67 282.1,236.64 282.6,235.31 283.1,233.61 283.4,232.58 283.7,231.4 284.0,230.07 284.2,228.56 284.5,226.87 284.8,225 285.0,222.97 285.3,220.82 285.6,218.64 285.8,216.56 286.1,214.73 286.4,213.35 286.6,212.57 286.9,212.51 287.2,213.16 287.4,214.45 287.7,216.21 288.0,218.27 288.3,220.44 288.5,222.6 288.8,224.66 289.1,226.56 289.3,228.28 289.6,229.82 289.9,231.19 290.1,232.39 290.4,233.45 290.7,234.38 290.9,235.2 291.5,236.55 292.0,237.62 292.6,238.45 293.1,239.13 293.6,239.67 294.2,240.11 294.7,240.48 295.2,240.79 295.8,241.05 296.3,241.27 296.9,241.46 297.4,241.62 298.7,241.94 300.1,242.18 301.4,242.35 302.8,242.48 304.1,242.59 305.5,242.67 306.8,242.74 308.1,242.8 309.5,242.84 310.8,242.88 311.4,242.9 311.9,242.91 312.4,242.92 313.0,242.94 313.5,242.95 314.1,242.96 314.6,242.97 315.1,242.98 315.7,242.99 316.2,242.99 316.7,243 317.0,243.01 317.3,243.01 317.6,243.01 317.8,243.02 318.1,243.02 318.4,243.02 318.6,243.03 318.9,243.03 319.2,243.03 319.4,243.04 319.7,243.04 320.0,243.04 320.2,243.04 320.5,243.05 320.8,243.05 321.0,243.05 321.3,243.06 321.6,243.06 321.9,243.06 322.1,243.06 322.4,243.07 322.7,243.07 322.9,243.07 323.2,243.07 323.5,243.07 323.7,243.08 324.0,243.08 324.3,243.08 324.5,243.08 325.1,243.09 325.6,243.09 326.2,243.09 326.7,243.1 327.2,243.1 327.8,243.1 328.3,243.11 328.8,243.11 329.4,243.11 329.9,243.12 330.5,243.12 331.0,243.12 332.3,243.13 333.7,243.13 335.0,243.14 336.4,243.14 337.7,243.15 339.1,243.15 340.4,243.16 341.7,243.16 342.4,243.16" stroke="#000" stroke-width="2.0"/>
</g>
<rect x="96.6" y="143.8" width="245.79999999999998" height="104.79999999999998" fill="none" stroke="#000" stroke-width="1.85"/>
<line x1="118.80" y1="248.6" x2="118.80" y2="254.2" stroke="#000" stroke-width="1.3"/><line x1="104.78" y1="268.75" x2="113.58" y2="268.75" stroke="#000" stroke-width="0.85"/><text class="tl" transform="translate(115.48,273.40) scale(1,1.1)" text-anchor="start">1.5</text><line x1="152.40" y1="248.6" x2="152.40" y2="254.2" stroke="#000" stroke-width="1.3"/><line x1="143.99" y1="268.75" x2="152.79" y2="268.75" stroke="#000" stroke-width="0.85"/><text class="tl" transform="translate(154.69,273.40) scale(1,1.1)" text-anchor="start">1</text><line x1="186.00" y1="248.6" x2="186.00" y2="254.2" stroke="#000" stroke-width="1.3"/><line x1="171.98" y1="268.75" x2="180.78" y2="268.75" stroke="#000" stroke-width="0.85"/><text class="tl" transform="translate(182.68,273.40) scale(1,1.1)" text-anchor="start">0.5</text><line x1="219.60" y1="248.6" x2="219.60" y2="254.2" stroke="#000" stroke-width="1.3"/><text class="tl" transform="translate(219.53,273.40) scale(1,1.1)" text-anchor="middle">0</text><line x1="253.20" y1="248.6" x2="253.20" y2="254.2" stroke="#000" stroke-width="1.3"/><text class="tl" transform="translate(253.12,273.40) scale(1,1.1)" text-anchor="middle">0.5</text><line x1="286.80" y1="248.6" x2="286.80" y2="254.2" stroke="#000" stroke-width="1.3"/><text class="tl" transform="translate(286.73,273.40) scale(1,1.1)" text-anchor="middle">1</text><line x1="320.40" y1="248.6" x2="320.40" y2="254.2" stroke="#000" stroke-width="1.3"/><text class="tl" transform="translate(320.32,273.40) scale(1,1.1)" text-anchor="middle">1.5</text><line x1="90.69999999999999" y1="148.40" x2="96.6" y2="148.40" stroke="#000" stroke-width="1.3"/><text class="tl" transform="translate(85.00,154.80) scale(1,1.09)" text-anchor="end">1.00</text><line x1="90.69999999999999" y1="181.04" x2="96.6" y2="181.04" stroke="#000" stroke-width="1.3"/><text class="tl" transform="translate(85.00,187.54) scale(1,1.09)" text-anchor="end">0.66</text><line x1="90.69999999999999" y1="212.72" x2="96.6" y2="212.72" stroke="#000" stroke-width="1.3"/><text class="tl" transform="translate(85.00,219.32) scale(1,1.09)" text-anchor="end">0.33</text><line x1="90.69999999999999" y1="244.40" x2="96.6" y2="244.40" stroke="#000" stroke-width="1.3"/><text class="tl" transform="translate(85.00,251.10) scale(1,1.09)" text-anchor="end">0.00</text><line x1="342.4" y1="148.40" x2="348.09999999999997" y2="148.40" stroke="#000" stroke-width="1.3"/><text class="tl" transform="translate(354.20,154.80) scale(1,1.09)" text-anchor="start">1</text><line x1="342.4" y1="244.40" x2="348.09999999999997" y2="244.40" stroke="#000" stroke-width="1.3"/><text class="tl" transform="translate(354.20,251.10) scale(1,1.09)" text-anchor="start">0</text>
<g transform="translate(36.4,210.2) rotate(-90) scale(1,1.07)"><text class="i" x="-0.6" y="0">P</text><text x="9.3" y="0">(</text><text class="i" transform="translate(15.5,0) skewX(-7) scale(1.06,1)">&#969;</text><text x="26.3" y="0">)</text></g>
<g transform="translate(383.5,214.8) rotate(-90) scale(1,1.07)"><text class="i" x="-1" y="0">T</text><text x="10.4" y="0">(</text><text class="i" transform="translate(17.7,0) skewX(-7) scale(1.06,1)">&#969;</text><text x="30.2" y="0">)</text></g>
<g id="xl"><text x="178.3" y="296.3">(</text><text class="i" transform="translate(182.9,296.3) skewX(-7) scale(1.06,1)">&#969;</text><line x1="198" y1="292.75" x2="206.8" y2="292.75" stroke="#000" stroke-width="0.85"/><text class="i" transform="translate(211.0,296.3) skewX(-7) scale(1.06,1)">&#969;</text><text transform="translate(221.1,299) scale(1.1,1)" style="font-size:11.3px">0</text><text x="228.9" y="296.3">)</text><line x1="235.1" y1="298.7" x2="240.3" y2="285.4" stroke="#000" stroke-width="0.9"/><text transform="translate(242.7,296.3) scale(1.09,1)">&#916;</text><text transform="translate(253.7,299) scale(1.1,1)" style="font-size:11.3px">0</text></g>
</g></svg>
</body></html>
